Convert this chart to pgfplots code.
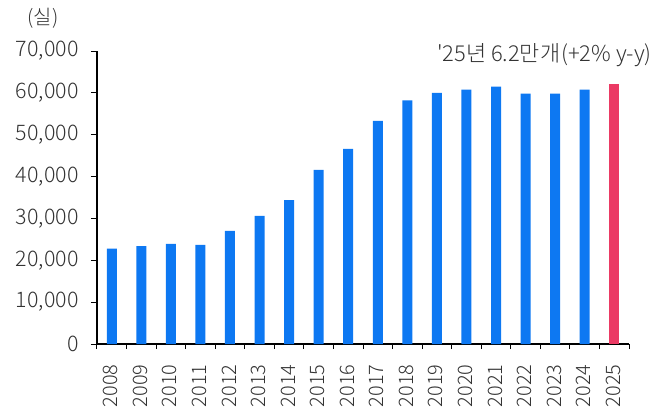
\documentclass[border=0pt]{standalone}
\usepackage{fontspec}
\setmainfont{Noto Sans CJK KR}[UprightFont=* Light]
\newfontfamily\plainfont{Noto Sans CJK KR}[UprightFont=* Light]
\usepackage{pgfplots}
\pgfplotsset{compat=1.18}
\definecolor{barblue}{HTML}{0D78F2}
\definecolor{barred}{HTML}{EB3A64}
\definecolor{txt}{HTML}{333333}
\begin{document}
\fontsize{19}{23}\selectfont
\begin{tikzpicture}
\path[use as bounding box] (-97bp,-65bp) rectangle (571bp,344bp);
\begin{axis}[
  width=532bp, height=293bp, scale only axis,
  xmin=-0.5, xmax=17.5, ymin=0, ymax=70000,
  axis x line*=bottom, axis y line*=left,
  axis line style={black, line width=1.1pt},
  tick align=outside,
  ytick={0,10000,20000,30000,40000,50000,60000,70000},
  scaled y ticks=false,
  /pgf/number format/assume math mode=true,
  yticklabel={\pgfmathprintnumber[fixed,1000 sep={,}]{\tick}},
  yticklabel style={text=txt, xshift=-6bp, font=\fontsize{21.5}{25}\selectfont},
  ytick style={black, line width=1pt},
  major tick length=6bp,
  xtick={0,1,2,3,4,5,6,7,8,9,10,11,12,13,14,15,16,17},
  xticklabels={2008,2009,2010,2011,2012,2013,2014,2015,2016,2017,2018,2019,2020,2021,2022,2023,2024,2025},
  major x tick style={draw=none},
  minor xtick={-0.5,0.5,...,17.5},
  minor x tick style={black, line width=1pt},
  minor tick length=5bp,
  xticklabel style={rotate=90, anchor=east, text=txt, xshift=-8bp, yshift=1bp, font=\fontsize{20}{23}\selectfont},
  clip=false,
]
\addplot[ybar, bar width=10bp, fill=barblue, draw=none] coordinates {
(0,22800) (1,23400) (2,23900) (3,23700) (4,27000) (5,30600) (6,34400) (7,41600) (8,46600)
(9,53300) (10,58200) (11,60000) (12,60800) (13,61500) (14,59800) (15,59800) (16,60800)
};
\addplot[ybar, bar width=10bp, fill=barred, draw=none] coordinates {(17,62100)};
\node[anchor=base east, text=txt, inner sep=0pt, font=\fontsize{22}{26}\selectfont] at (axis cs:18.28,67500) {{\plainfont '}25년 6.2만개\kern1bp(+2\% y-y)};
\node[anchor=center, text=txt, inner sep=0pt, font=\fontsize{20}{24}\selectfont] at (rel axis cs:0,1) [xshift=-54bp, yshift=33bp] {(실)};
\end{axis}
\end{tikzpicture}
\end{document}
